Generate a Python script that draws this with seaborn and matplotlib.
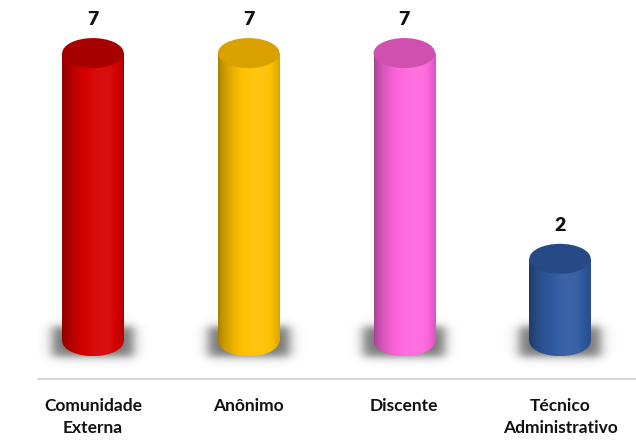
import numpy as np
import pandas as pd
import matplotlib
matplotlib.use("Agg")
import matplotlib.pyplot as plt
import seaborn as sns
from matplotlib.patches import Ellipse
from matplotlib.colors import to_rgb

categories = ["Comunidade\nExterna", "Anônimo", "Discente", "Técnico\nAdministrativo"]
values = [7, 7, 7, 2]
body_colors = ["#D60000", "#FFC000", "#FF66DD", "#2F5AA0"]
top_colors = ["#A80000", "#D9A000", "#D050B0", "#264A85"]

sns.set_theme(style="white")
plt.rcParams['font.family'] = ['Lato', 'DejaVu Sans']

df = pd.DataFrame({"cat": categories, "val": values})

fig = plt.figure(figsize=(6.36, 4.43), dpi=100)
ax = fig.add_axes([38/636, (443-379)/443, 598/636, 379/443])

bar_w = 0.395
sns.barplot(data=df, x="cat", y="val", hue="cat", palette=body_colors,
            width=bar_w, legend=False, ax=ax, zorder=3)

XL = (-0.353, 3.488)
YL = (-0.92, 8.29)
ax.set_xlim(*XL)
ax.set_ylim(*YL)

pxy = 41.14
pxx = 155.7
ell_h = 30 / pxy

def shade(c, f):
    r = np.array(to_rgb(c))
    if f < 1:
        return r * f
    return r + (1 - r) * (f - 1)

def smoothbox(t, half, soft):
    return 0.5 * (np.tanh((t + half) / soft) - np.tanh((t - half) / soft))

for i, patch in enumerate(ax.patches[:len(values)]):
    x0 = patch.get_x()
    w = patch.get_width()
    h = patch.get_height()
    cx = x0 + w / 2
    col = body_colors[i]
    # soft shadow
    sx = np.linspace(-60, 60, 121)
    sy = np.linspace(-30, 30, 61)
    ax_ = smoothbox(sx, 41, 7)
    ay_ = smoothbox(sy + 1, 15, 5)
    alpha = np.outer(ay_, ax_) * 0.8
    sh = np.zeros((len(sy), len(sx), 4))
    sh[..., :3] = 0.33
    sh[..., 3] = alpha
    ax.imshow(sh, extent=[cx - 60 / pxx, cx + 60 / pxx, -30 / pxy, 30 / pxy],
              aspect="auto", origin="lower", zorder=1, interpolation="bilinear")
    # gradient body
    xs = np.linspace(0, 1, 200)
    prof = 0.64 + 0.42 * np.sin(np.pi * np.clip(xs / 1.3, 0, 1)) ** 0.7
    prof = np.where(xs > 0.8, prof - (xs - 0.8) * 0.5, prof)
    rgb = np.array([np.clip(shade(col, f), 0, 1) for f in prof])
    img = rgb[np.newaxis, :, :]
    patch.set_alpha(0)
    rect = plt.Rectangle((x0, 0), w, h, facecolor="none", edgecolor="none")
    ax.add_patch(rect)
    im = ax.imshow(img, extent=[x0, x0 + w, -ell_h / 2, h], aspect="auto",
                   origin="lower", zorder=4, interpolation="bilinear")
    im.set_clip_path(rect)
    bottom = Ellipse((cx, 0), w, ell_h, facecolor="none", edgecolor="none")
    ax.add_patch(bottom)
    im2 = ax.imshow(img, extent=[x0, x0 + w, -ell_h / 2, 0.01], aspect="auto",
                    origin="lower", zorder=4, interpolation="bilinear")
    im2.set_clip_path(bottom)
    top = Ellipse((cx, h), w, ell_h, facecolor=top_colors[i], edgecolor="none", zorder=5)
    ax.add_patch(top)
    ax.text(cx, h + 0.81, str(values[i]), ha="center", va="center",
            fontsize=14, fontweight="heavy", color="#111111", zorder=6)

ax.set_xlim(*XL)
ax.set_ylim(*YL)
ax.set_xlabel("")
ax.set_ylabel("")
ax.set_yticks([])
for s in ["top", "left", "right"]:
    ax.spines[s].set_visible(False)
ax.spines["bottom"].set_color("#d0d0d0")
ax.spines["bottom"].set_linewidth(1.2)
ax.tick_params(axis="x", length=0, pad=14)
for lab in ax.get_xticklabels():
    lab.set_fontweight("bold")
    lab.set_fontsize(12.5)
    lab.set_color("#111111")
    lab.set_linespacing(1.4)

fig.savefig("out.png", dpi=100)
